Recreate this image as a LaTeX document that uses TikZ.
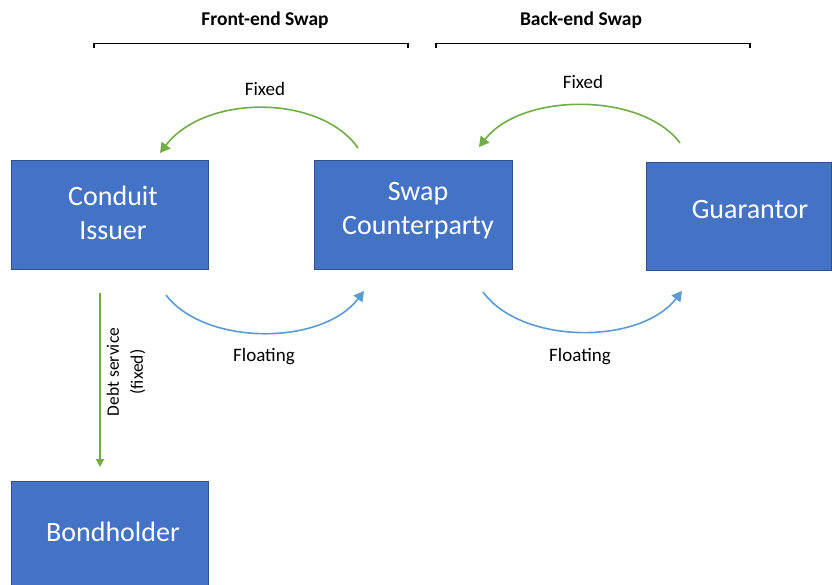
\documentclass[tikz,border=0pt]{standalone}
\usepackage{fontspec}
\setmainfont{Carlito}
\usetikzlibrary{arrows.meta}
\definecolor{boxblue}{HTML}{4472C4}
\definecolor{boxedge}{HTML}{2F528F}
\definecolor{fixgreen}{HTML}{70AD47}
\definecolor{floatblue}{HTML}{5B9BD5}
\tikzset{
  party/.style={draw=boxedge, line width=0.8pt, fill=boxblue, inner sep=0pt},
  partytext/.style={text=white, font=\fontsize{28}{34}\selectfont, align=center, inner sep=0pt},
  lbl/.style={font=\fontsize{19}{23}\selectfont, text=black, inner sep=0pt},
  dlbl/.style={font=\fontsize{17.5}{24}\selectfont, text=black, inner sep=0pt, align=center, rotate=90},
  ttl/.style={font=\bfseries\fontsize{19.5}{23}\selectfont, text=black, inner sep=0pt},
  fixarr/.style={draw=fixgreen, line width=1.6pt, -{Triangle[length=10pt,width=11pt]}},
  floatarr/.style={draw=floatblue, line width=1.6pt, -{Triangle[length=10pt,width=11pt]}},
  bracket/.style={draw=black, line width=1.2pt}
}
\begin{document}
\begin{tikzpicture}[x=1pt,y=-1pt]
\useasboundingbox[fill=white] (0,0) rectangle (832,584);
% boxes
\node[party, minimum width=197pt, minimum height=109pt] (ci) at (109.5,214.5) {};
\node[party, minimum width=198pt, minimum height=109pt] (sc) at (413,214.5) {};
\node[party, minimum width=185pt, minimum height=108pt] (gu) at (738.5,216) {};
\node[party, minimum width=197pt, minimum height=104pt] (bh) at (109.5,533) {};
\node[partytext] (cit) at (113,213) {Conduit\\Issuer};
\node[partytext] (sct) at (418,211) {Swap\\Counterparty};
\node[partytext] (gut) at (750,210) {Guarantor};
\node[partytext] (bht) at (113,532) {Bondholder};
% titles and brackets
\node[ttl] (t1) at (265,20) {Front-end Swap};
\node[ttl] (t2) at (581,20) {Back-end Swap};
\coordinate (b1a) at (94,48); \coordinate (b1b) at (94,43.5);
\coordinate (b1c) at (408,43.5); \coordinate (b1d) at (408,48);
\coordinate (b2a) at (436,48); \coordinate (b2b) at (436,43.5);
\coordinate (b2c) at (750,43.5); \coordinate (b2d) at (750,48);
\draw[bracket] (b1a) -- (b1b) -- (b1c) -- (b1d);
\draw[bracket] (b2a) -- (b2b) -- (b2c) -- (b2d);
% fixed arrows
\coordinate (f1s) at (358,148); \coordinate (f1e) at (160,153);
\coordinate (f2s) at (680,143); \coordinate (f2e) at (479,147);
\draw[fixarr] (f1s) .. controls (320,94) and (205,94) .. (f1e);
\draw[fixarr] (f2s) .. controls (642,92) and (522,92) .. (f2e);
\node[lbl] (fx1) at (265,89) {Fixed};
\node[lbl] (fx2) at (583,82) {Fixed};
% floating arrows
\coordinate (l1s) at (166,295); \coordinate (l1e) at (364,291);
\coordinate (l2s) at (483,292); \coordinate (l2e) at (682,291);
\draw[floatarr] (l1s) .. controls (205,346) and (322,346) .. (l1e);
\draw[floatarr] (l2s) .. controls (522,345) and (640,345) .. (l2e);
\node[lbl] (fl1) at (264,357) {Floating};
\node[lbl] (fl2) at (580,357) {Floating};
% debt service
\coordinate (ds) at (100,293); \coordinate (de) at (100,467);
\draw[draw=fixgreen, line width=1.6pt, -{Triangle[length=8pt,width=8pt]}] (ds) -- (de);
\node[dlbl] (dl) at (126,372) {Debt service\\(fixed)};
\end{tikzpicture}
\end{document}
